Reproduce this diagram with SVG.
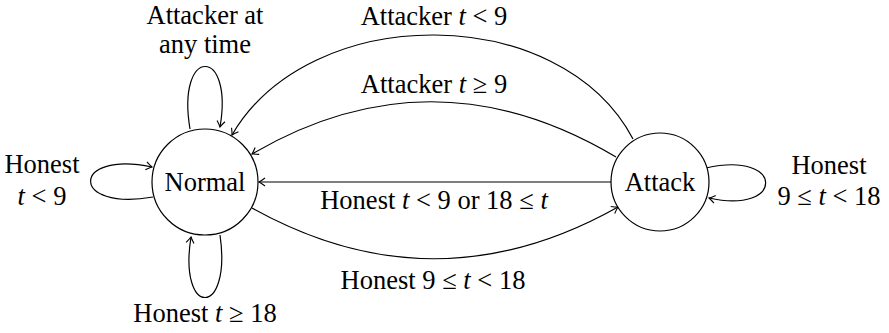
<svg xmlns="http://www.w3.org/2000/svg" width="889" height="333" viewBox="0 0 889 333">
<style>
text{font-family:"Liberation Serif","DejaVu Serif",serif;font-size:26.5px;fill:#000;text-anchor:middle}
.i{font-style:italic}
.st{fill:#fff;stroke:#000;stroke-width:1.2}
.e{fill:none;stroke:#000;stroke-width:1.2;marker-end:url(#arr)}
</style>
<defs>
<marker id="arr" markerUnits="userSpaceOnUse" markerWidth="12" markerHeight="12" viewBox="-7 -6 8 12" refX="0" refY="0" orient="auto">
<path d="M-6,-4 Q-2,-1 0,0 Q-2,1 -6,4" fill="none" stroke="#000" stroke-width="1.1"/>
</marker>
</defs>
<g id="edges">
<path class="e" d="M190,129 C176,46 234,46 220,127"/>
<path class="e" d="M153,197 C70,212 70,150 152,167"/>
<path class="e" d="M220,235 C232,318 178,318 191,237"/>
<path class="e" d="M706,168 C785,150 785,215 709,198"/>
<path class="e" d="M611,182 L259,182"/>
<path class="e" d="M252,208 Q435,310 618,207"/>
<path class="e" d="M616,157 Q433,48 252,154"/>
<path class="e" d="M633,139 C560,1 310,1 232,135"/>
</g>
<g id="labels">
<text x="205" y="24">Attacker at</text>
<text x="205" y="53">any time</text>
<text x="42" y="173">Honest</text>
<text x="42" y="205"><tspan class="i">t</tspan> &lt; 9</text>
<text x="205" y="322">Honest <tspan class="i">t</tspan> ≥ 18</text>
<text x="829" y="174">Honest</text>
<text x="829" y="205">9 ≤ <tspan class="i">t</tspan> &lt; 18</text>
<text x="434" y="25">Attacker <tspan class="i">t</tspan> &lt; 9</text>
<text x="434" y="93">Attacker <tspan class="i">t</tspan> ≥ 9</text>
<text x="434" y="209">Honest <tspan class="i">t</tspan> &lt; 9 or 18 ≤ <tspan class="i">t</tspan></text>
<text x="433" y="289">Honest 9 ≤ <tspan class="i">t</tspan> &lt; 18</text>
</g>
<g id="normal">
<circle class="st" cx="205" cy="182" r="53"/>
<text x="205" y="191">Normal</text>
</g>
<g id="attack">
<circle class="st" cx="660" cy="182" r="49"/>
<text x="660" y="191">Attack</text>
</g>
</svg>
